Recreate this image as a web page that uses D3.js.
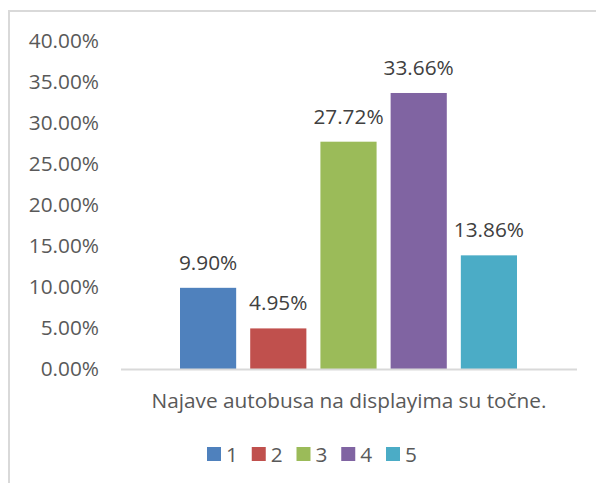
<!DOCTYPE html>
<html>
<head>
<meta charset="utf-8">
<script src="https://cdn.jsdelivr.net/npm/d3@7/dist/d3.min.js"></script>
<style>
  body { margin: 0; background: #fff; }
  svg { font-family: 'Open Sans', sans-serif; }
</style>
</head>
<body>
<div id="chart"></div>
<script>
// Chart data
const categories = ['1', '2', '3', '4', '5'];
const values = [9.90, 4.95, 27.72, 33.66, 13.86];
const colors = ['#4f81bd', '#c0504d', '#9bbb59', '#8064a2', '#4bacc6'];
const yTicks = [0, 5, 10, 15, 20, 25, 30, 35, 40];
const axisTitle = 'Najave autobusa na displayima su točne.';

const width = 596;
const height = 483;
const plot = { left: 121, right: 577, top: 41, bottom: 369 };
const FONT_SIZE = '20.8px';

const svg = d3.select('#chart')
  .append('svg')
  .attr('width', width)
  .attr('height', height);

// chart frame (only top and left edges visible in the crop)
svg.append('rect')
  .attr('x', 9)
  .attr('y', 11)
  .attr('width', width + 20)
  .attr('height', height + 20)
  .attr('fill', 'none')
  .attr('stroke', '#d9d9d9')
  .attr('stroke-width', 2);

const x = d3.scaleBand()
  .domain(categories)
  .range([180, 517])
  .paddingInner(0.2)
  .paddingOuter(0);

const y = d3.scaleLinear()
  .domain([0, 40])
  .range([plot.bottom, plot.top]);

// y tick labels
svg.append('g')
  .selectAll('text')
  .data(yTicks)
  .join('text')
  .attr('x', 99)
  .attr('y', (d) => y(d))
  .attr('dy', '0.36em')
  .attr('text-anchor', 'end')
  .attr('fill', '#595959')
  .style('font-size', FONT_SIZE)
  .text((d) => d.toFixed(2) + '%');

// bars
svg.append('g')
  .selectAll('rect')
  .data(values)
  .join('rect')
  .attr('x', (d, i) => x(categories[i]))
  .attr('width', x.bandwidth())
  .attr('y', (d) => y(d))
  .attr('height', (d) => y(0) - y(d))
  .attr('fill', (d, i) => colors[i]);

// baseline
svg.append('line')
  .attr('x1', plot.left)
  .attr('x2', plot.right)
  .attr('y1', y(0) + 0.5)
  .attr('y2', y(0) + 0.5)
  .attr('stroke', '#d9d9d9')
  .attr('stroke-width', 2);

// data labels
svg.append('g')
  .selectAll('text')
  .data(values)
  .join('text')
  .attr('x', (d, i) => x(categories[i]) + x.bandwidth() / 2)
  .attr('y', (d) => y(d) - 18)
  .attr('text-anchor', 'middle')
  .attr('fill', '#404040')
  .style('font-size', FONT_SIZE)
  .text((d) => d.toFixed(2) + '%');

// category axis title
svg.append('text')
  .attr('x', (plot.left + plot.right) / 2)
  .attr('y', 408)
  .attr('text-anchor', 'middle')
  .attr('fill', '#595959')
  .style('font-size', FONT_SIZE)
  .text(axisTitle);

// legend
const legendX = d3.scalePoint()
  .domain(categories)
  .range([207, 386]);

const legend = svg.append('g')
  .selectAll('g')
  .data(categories)
  .join('g')
  .attr('transform', (d) => `translate(${legendX(d)},447)`);

legend.append('rect')
  .attr('width', 14)
  .attr('height', 14)
  .attr('fill', (d, i) => colors[i]);

legend.append('text')
  .attr('x', 19)
  .attr('y', 14.5)
  .attr('fill', '#595959')
  .style('font-size', FONT_SIZE)
  .text((d) => d);
</script>
</body>
</html>
